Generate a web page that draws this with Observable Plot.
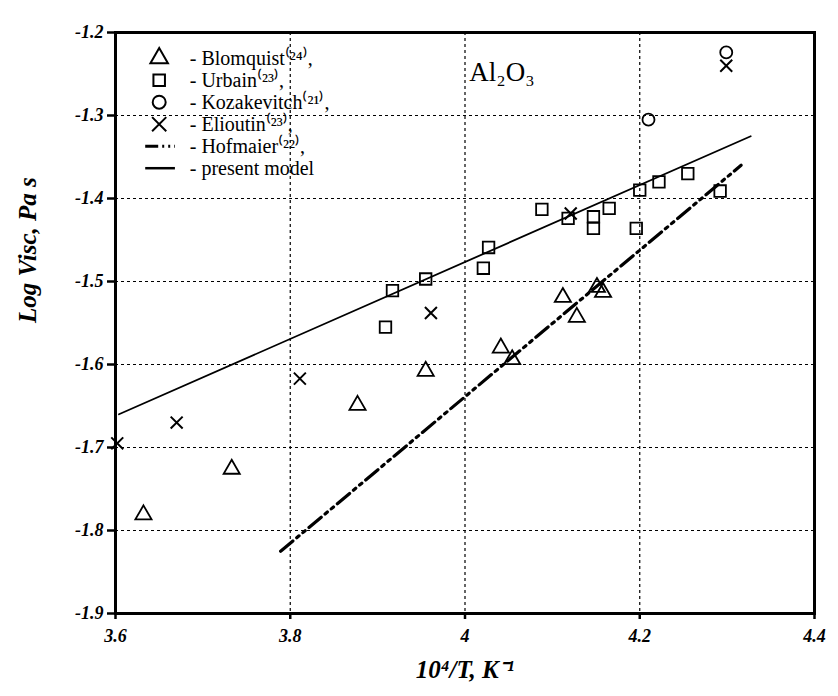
<!DOCTYPE html>
<html>
<head>
<meta charset="utf-8">
<script src="https://cdn.jsdelivr.net/npm/d3@7"></script>
<script src="https://cdn.jsdelivr.net/npm/@observablehq/plot@0.6"></script>
<style>
  body { margin: 0; background: #fff; }
  svg { font-family: "Liberation Serif", serif; }
  svg [aria-label$="tick label"] { font-weight: bold; font-style: italic; font-size: 18px; }
  svg [aria-label="frame"] rect, svg [aria-label="frame"] { stroke-width: 3px; }
  svg [aria-label$="tick"] { stroke-width: 2.5px; }
</style>
</head>
<body>
<div id="chart"></div>
<script>
// data
const blomquist = [[3.632,-1.781],[3.733,-1.726],[3.877,-1.649],[3.955,-1.608],[4.041,-1.580],[4.054,-1.594],
  [4.112,-1.519],[4.128,-1.543],[4.151,-1.507],[4.158,-1.513]];
const urbain = [[3.909,-1.555],[3.917,-1.511],[3.955,-1.497],[4.021,-1.484],[4.027,-1.459],[4.088,-1.413],
  [4.118,-1.424],[4.147,-1.422],[4.147,-1.436],[4.165,-1.412],[4.196,-1.436],[4.200,-1.390],
  [4.222,-1.380],[4.255,-1.370],[4.292,-1.391]];
const kozakevitch = [[4.210,-1.305],[4.299,-1.224]];
const elioutin = [[3.602,-1.695],[3.670,-1.670],[3.811,-1.617],[3.961,-1.538],[4.121,-1.418],[4.299,-1.240]];
const hofmaier = [[3.789,-1.825],[4.316,-1.360]];
const model = [[3.604,-1.660],[4.327,-1.325]];

const legendRows = [
  {label: "- Blomquist⁽²⁴⁾,", symbol: "triangle"},
  {label: "- Urbain⁽²³⁾,", symbol: "square"},
  {label: "- Kozakevitch⁽²¹⁾,", symbol: "circle"},
  {label: "- Elioutin⁽²³⁾,", symbol: "times"},
  {label: "- Hofmaier⁽²²⁾,", symbol: "dashdot"},
  {label: "- present model", symbol: "solid"}
];
const legendX = 3.650, legendTextX = 3.685, legendY0 = -1.231, legendStep = -0.0265;
const legend = legendRows.map((d, i) => ({...d, y: legendY0 + i * legendStep}));

const ptStyle = {x: d => d[0], y: d => d[1], r: 6, stroke: "black", strokeWidth: 1.8, fill: "none"};
const dashdot = "16,5,3,5,3,5";

const chart = Plot.plot({
  width: 838,
  height: 696,
  marginLeft: 115,
  marginRight: 24,
  marginTop: 32,
  marginBottom: 83,
  style: {fontFamily: "Liberation Serif, serif", background: "white"},
  x: {domain: [3.6, 4.4]},
  y: {domain: [-1.9, -1.2]},
  marks: [
    Plot.gridX([3.8, 4.0, 4.2], {stroke: "black", strokeOpacity: 1, strokeDasharray: "3,3", strokeWidth: 1.2}),
    Plot.gridY(d3.range(-1.8, -1.25, 0.1), {stroke: "black", strokeOpacity: 1, strokeDasharray: "3,3", strokeWidth: 1.2}),
    Plot.axisX({ticks: [3.6, 3.8, 4.0, 4.2, 4.4], tickFormat: d => String(+d.toFixed(1)), tickSize: 6, tickPadding: 10,
      label: null}),
    Plot.axisY({ticks: d3.range(-1.9, -1.15, 0.1), tickFormat: d => d.toFixed(1), tickSize: 8, tickPadding: 4, label: null}),
    Plot.frame({stroke: "black", strokeWidth: 3}),
    Plot.line(model, {x: d => d[0], y: d => d[1], stroke: "black", strokeWidth: 1.8}),
    Plot.line(hofmaier, {x: d => d[0], y: d => d[1], stroke: "black", strokeWidth: 3.2, strokeDasharray: dashdot}),
    Plot.dot(blomquist, {...ptStyle, symbol: "triangle", r: 6}),
    Plot.dot(urbain, {...ptStyle, symbol: "square", r: 6.5}),
    Plot.dot(kozakevitch, {...ptStyle, symbol: "circle"}),
    Plot.dot(elioutin, {...ptStyle, symbol: "times", r: 5.5, strokeWidth: 2}),
    // legend
    Plot.dot(legend.filter(d => !["dashdot", "solid"].includes(d.symbol)),
      {x: () => legendX, y: "y", symbol: "symbol", r: 6.5, stroke: "black", strokeWidth: 2, fill: "none"}),
    Plot.link(legend.filter(d => d.symbol === "dashdot"),
      {x1: () => legendX - 0.016, x2: () => legendX + 0.018, y1: "y", y2: "y", stroke: "black", strokeWidth: 3, strokeDasharray: "13,4,2,4,2,4"}),
    Plot.link(legend.filter(d => d.symbol === "solid"),
      {x1: () => legendX - 0.016, x2: () => legendX + 0.018, y1: "y", y2: "y", stroke: "black", strokeWidth: 2.5}),
    Plot.text(legend, {x: () => legendTextX, y: "y", text: "label", textAnchor: "start", fontSize: 20, fill: "black"}),
    Plot.text(["Al₂O₃"], {x: () => 4.005, y: () => -1.248, textAnchor: "start", fontSize: 27, fill: "black"}),
    // axis titles
    Plot.text(["10⁴/T, K⁻¹"], {frameAnchor: "bottom", dy: 64, fontSize: 25, fontWeight: "bold", fontStyle: "italic", fill: "black"}),
    Plot.text(["Log Visc, Pa s"], {frameAnchor: "left", dx: -88, rotate: -90, fontSize: 25, fontWeight: "bold", fontStyle: "italic", fill: "black"})
  ]
});
document.getElementById("chart").append(chart);
</script>
</body>
</html>
